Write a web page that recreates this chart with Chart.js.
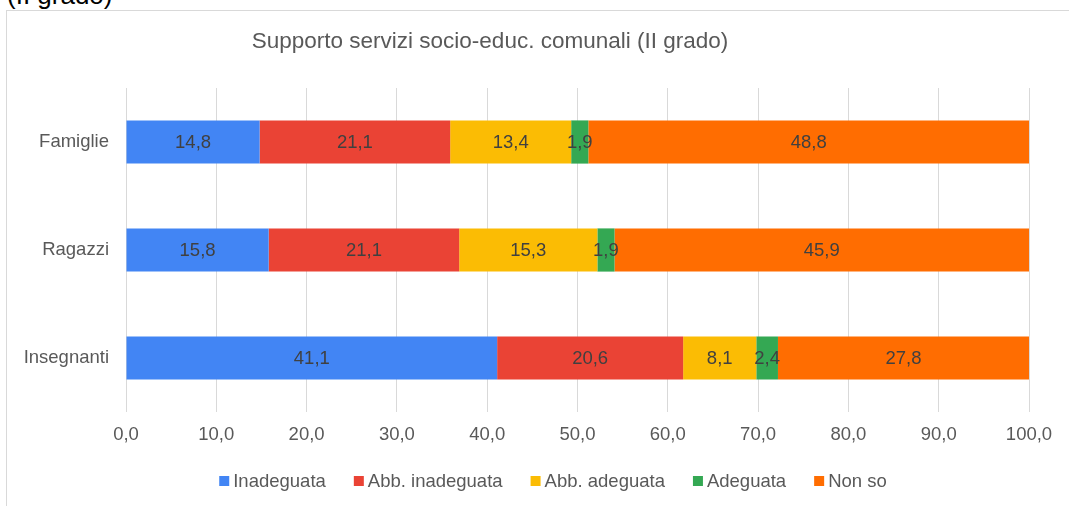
<!DOCTYPE html>
<html>
<head>
<meta charset="utf-8">
<script src="https://cdn.jsdelivr.net/npm/chart.js@4.4.1/dist/chart.umd.min.js"></script>
<style>
  html, body { margin: 0; padding: 0; background: #fff; overflow: hidden; }
  #page { position: relative; width: 1069px; height: 506px; overflow: hidden; }
  #frame { position: absolute; left: 6px; top: 10px; width: 2000px; height: 2000px; border: 1px solid #d9d9d9; }
  #heading { position: absolute; left: 7px; top: -20px; font: 26px/30px "Liberation Sans", Arial, sans-serif; color: #000; white-space: nowrap; }
  canvas { position: absolute; left: 0; top: 0; }
</style>
</head>
<body>
<div id="page">
  <div id="heading">(II grado)</div>
  <div id="frame"></div>
  <canvas id="chart" width="1069" height="506"></canvas>
</div>
<script>
const chartTitle = "Supporto servizi socio-educ. comunali (II grado)";
const categories = ["Famiglie", "Ragazzi", "Insegnanti"];
const seriesNames = ["Inadeguata", "Abb. inadeguata", "Abb. adeguata", "Adeguata", "Non so"];
const inadeguata = [14.8, 15.8, 41.1];
const abbInadeguata = [21.1, 21.1, 20.6];
const abbAdeguata = [13.4, 15.3, 8.1];
const adeguata = [1.9, 1.9, 2.4];
const nonSo = [48.8, 45.9, 27.8];
const xTicks = [0, 10, 20, 30, 40, 50, 60, 70, 80, 90, 100];
const seriesColors = ["#4285F4", "#EA4335", "#FBBC04", "#34A853", "#FF6D01"];

const FONT = '"Liberation Sans", Arial, sans-serif';
const fmt = v => v.toFixed(1).replace(".", ",");

const seriesValues = [inadeguata, abbInadeguata, abbAdeguata, adeguata, nonSo];
const datasets = seriesNames.map((name, i) => ({
  label: name,
  data: seriesValues[i],
  backgroundColor: seriesColors[i],
  borderWidth: 0,
  barPercentage: 0.4,
  categoryPercentage: 1.0,
}));

// value labels in the middle of each segment
const barLabels = {
  id: "barLabels",
  afterDatasetsDraw(chart) {
    const ctx = chart.ctx;
    ctx.save();
    ctx.font = "18.5px " + FONT;
    ctx.fillStyle = "#404040";
    ctx.textAlign = "center";
    ctx.textBaseline = "middle";
    chart.data.datasets.forEach((ds, i) => {
      chart.getDatasetMeta(i).data.forEach((bar, j) => {
        const p = bar.getCenterPoint();
        ctx.fillText(fmt(ds.data[j]), p.x, p.y + 1);
      });
    });
    ctx.restore();
  },
};

// title + compact legend, drawn like the spreadsheet export
const chartDecor = {
  id: "chartDecor",
  afterDraw(chart) {
    const ctx = chart.ctx;
    ctx.save();
    ctx.fillStyle = "#595959";
    ctx.font = "22.5px " + FONT;
    ctx.textAlign = "center";
    ctx.textBaseline = "alphabetic";
    ctx.fillText(chartTitle, 490, 48);

    ctx.font = "18.5px " + FONT;
    ctx.textAlign = "left";
    ctx.textBaseline = "middle";
    const box = 10, gap = 4, spacing = 28, legendY = 481;
    const widths = chart.data.datasets.map(ds => ctx.measureText(ds.label).width);
    const total = widths.reduce((s, w) => s + box + gap + w, 0) + spacing * (widths.length - 1);
    let x = 553 - total / 2;
    chart.data.datasets.forEach((ds, i) => {
      ctx.fillStyle = ds.backgroundColor;
      ctx.fillRect(x, legendY - box / 2, box, box);
      ctx.fillStyle = "#595959";
      ctx.fillText(ds.label, x + box + gap, legendY + 1);
      x += box + gap + widths[i] + spacing;
    });
    ctx.restore();
  },
};

new Chart(document.getElementById("chart"), {
  type: "bar",
  data: { labels: categories, datasets },
  options: {
    indexAxis: "y",
    responsive: false,
    animation: false,
    layout: { padding: { top: 88, right: 40, bottom: 0, left: 0 } },
    plugins: {
      legend: { display: false },
      title: { display: false },
      tooltip: { enabled: false },
    },
    scales: {
      x: {
        stacked: true,
        min: 0,
        max: 100,
        afterBuildTicks: scale => { scale.ticks = xTicks.map(v => ({ value: v })); },
        afterFit: scale => { scale.height = 94; },
        ticks: {
          color: "#595959",
          font: { family: FONT, size: 18.5 },
          padding: 12,
          maxRotation: 0,
          callback: v => fmt(v),
        },
        grid: { color: "#d9d9d9", lineWidth: 1, drawTicks: false },
        border: { display: false },
      },
      y: {
        stacked: true,
        afterFit: scale => { scale.width = 126; },
        ticks: {
          color: "#595959",
          font: { family: FONT, size: 18.5 },
          padding: 17,
        },
        grid: { display: false, drawTicks: false },
        border: { display: false },
      },
    },
  },
  plugins: [barLabels, chartDecor],
});
</script>
</body>
</html>
